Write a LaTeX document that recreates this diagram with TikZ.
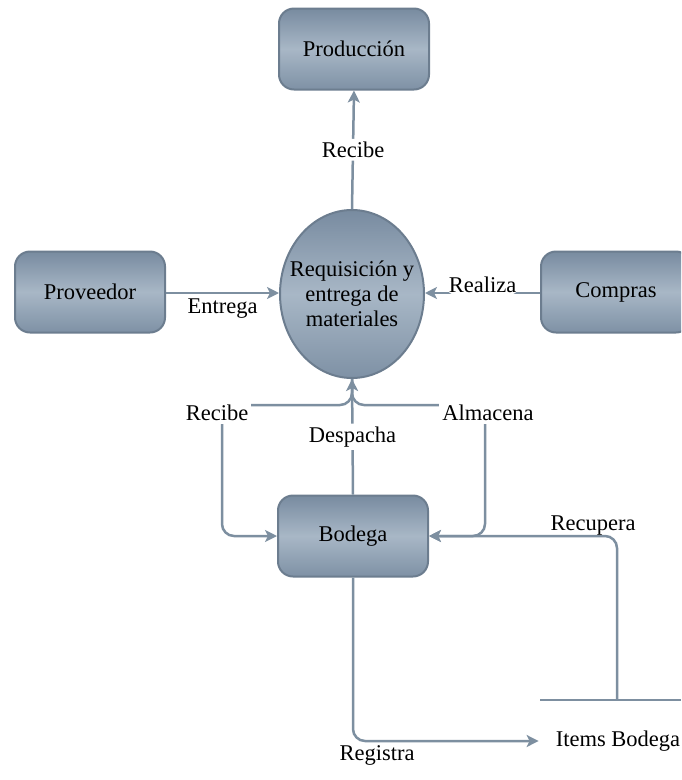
\documentclass[tikz,border=0pt]{standalone}
\usepackage{fontspec}
\setmainfont{Liberation Serif}
\usetikzlibrary{shapes.geometric,arrows.meta}

\definecolor{boxtop}{RGB}{120,139,160}
\definecolor{boxmid}{RGB}{168,183,198}
\definecolor{boxbot}{RGB}{126,145,165}
\definecolor{boxline}{RGB}{108,125,143}
\definecolor{flow}{RGB}{125,143,160}

\tikzset{
  txt/.style={font=\fontsize{22.5}{25}\selectfont, text=black},
  entity/.style={txt, rectangle, rounded corners=15pt, draw=boxline, line width=2pt,
    top color=boxtop, bottom color=boxbot, middle color=boxmid,
    minimum width=150pt, minimum height=81pt, inner sep=0pt},
  process/.style={txt, ellipse, draw=boxline, line width=2pt,
    top color=boxtop, bottom color=boxbot, middle color=boxmid,
    minimum width=144pt, minimum height=168pt, inner xsep=-12pt, inner ysep=0pt,
    align=center},
  flowline/.style={draw=flow, line width=2.5pt, rounded corners=12pt},
  arrowflow/.style={flowline, -{Stealth[length=12pt,width=12pt,inset=3pt]}},
  lbl/.style={txt, inner sep=3pt},
  lblw/.style={lbl, fill=white},
}

\begin{document}
\begin{tikzpicture}[x=1pt, y=-1pt]
  \useasboundingbox (0,0) rectangle (681,780);
  \clip (0,0) rectangle (681,780);

  % entities and the central process
  \node[entity] (prod) at (354,49) {Producción};
  \node[process] (proc) at (352,294) {Requisición y\\entrega de\\materiales};
  \node[entity] (prov) at (90,292) {Proveedor};
  \node[entity] (comp) at (616,292) {Compras};
  \node[entity] (bod) at (353,536) {Bodega};

  % data store
  \coordinate (storeL) at (540,700);
  \coordinate (storeR) at (681,700);
  \coordinate (storeTap) at (617,700);
  \node[lbl] (items) at (618,741) {Items Bodega};
  \draw[flowline] (storeL) -- (storeR);

  % routing corners
  \coordinate (recCorner) at (222,405);
  \coordinate (almCorner) at (485,405);

  % flows
  \draw[arrowflow] (proc.north) -- node[lblw] {Recibe} (prod.south);
  \draw[arrowflow] (prov.east |- 0,293) -- node[lbl, below, yshift=-2pt] {Entrega} (proc.west |- 0,293);
  \draw[arrowflow] (comp.west |- 0,293) -- node[lblw, yshift=8pt] {Realiza} (proc.east |- 0,293);

  \draw[arrowflow] (proc.south) |- (recCorner) |- (bod.west);
  \draw[arrowflow] (proc.south) |- (almCorner) |- (bod.east);
  \draw[arrowflow] (bod.north) -- node[lblw] {Despacha} (proc.south);
  \node[lblw] (lrec) at (217,413) {Recibe};
  \node[lblw] (lalm) at (488,413) {Almacena};

  \draw[arrowflow] (storeTap) |- (bod.east);
  \node[lbl, anchor=south, inner sep=1pt] (lrecu) at (593,536) {Recupera};

  \draw[arrowflow] (bod.south) |- ([xshift=-14pt]items.west);
  \node[lbl, anchor=north, inner sep=1pt] (lreg) at (377,744) {Registra};
\end{tikzpicture}
\end{document}
